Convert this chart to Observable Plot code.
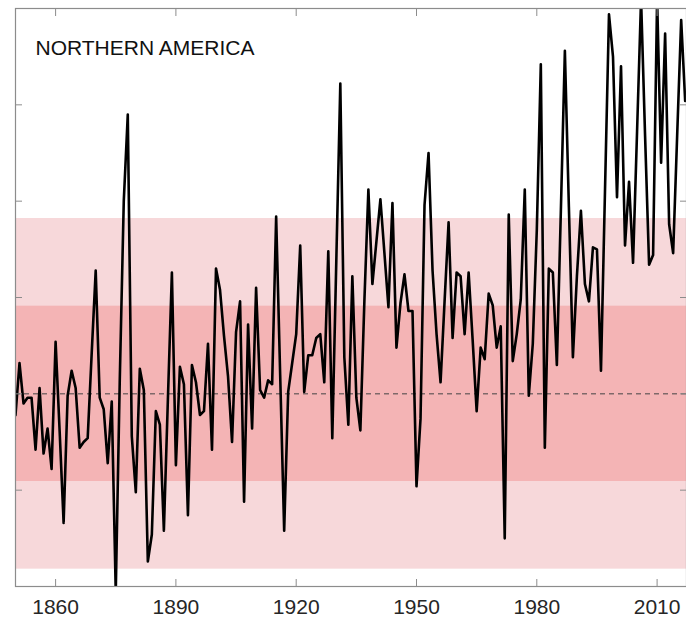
<!DOCTYPE html>
<html>
<head>
<meta charset="utf-8">
<script src="https://cdn.jsdelivr.net/npm/d3@7"></script>
<script src="https://cdn.jsdelivr.net/npm/@observablehq/plot@0.6"></script>
<style>
  html, body { margin: 0; padding: 0; background: #ffffff; }
  #chart svg { display: block; }
</style>
</head>
<body>
<div id="chart"></div>
<script>
// ---- data ----
const regionTitle = "NORTHERN AMERICA";
const firstYear = 1850;
const anomalies = [
  -0.11, 0.16, -0.05, -0.02, -0.02, -0.29, 0.03, -0.31, -0.18, -0.39, // 1850-1859
  0.27, -0.19, -0.67, -0.01, 0.12, 0.03, -0.28, -0.25, -0.23, 0.21,    // 1860-1869
  0.64, -0.02, -0.08, -0.36, -0.04, -1.03, 0.07, 1.00, 1.45, -0.22,    // 1870-1879
  -0.51, 0.13, 0.02, -0.87, -0.73, -0.09, -0.16, -0.71, -0.03, 0.63,   // 1880-1889
  -0.37, 0.14, 0.05, -0.63, 0.15, 0.06, -0.11, -0.09, 0.26, -0.29,     // 1890-1899
  0.65, 0.54, 0.30, 0.09, -0.25, 0.32, 0.48, -0.56, 0.36, -0.18,       // 1900-1909
  0.55, 0.02, -0.02, 0.07, 0.05, 0.92, 0.10, -0.71, 0.01, 0.16,        // 1910-1919
  0.31, 0.77, 0.01, 0.20, 0.20, 0.29, 0.31, 0.06, 0.74, -0.23,         // 1920-1929
  0.69, 1.61, 0.19, -0.16, 0.61, -0.02, -0.19, 0.48, 1.06, 0.57,       // 1930-1939
  0.79, 1.01, 0.73, 0.45, 0.99, 0.24, 0.47, 0.62, 0.43, 0.43,          // 1940-1949
  -0.48, -0.13, 0.98, 1.25, 0.64, 0.31, 0.06, 0.48, 0.89, 0.29,        // 1950-1959
  0.63, 0.61, 0.31, 0.63, 0.28, -0.09, 0.24, 0.18, 0.52, 0.46,         // 1960-1969
  0.24, 0.35, -0.75, 0.93, 0.17, 0.31, 0.49, 1.06, -0.01, 0.26,        // 1970-1979
  0.85, 1.71, -0.28, 0.65, 0.63, 0.15, 0.95, 1.78, 0.97, 0.19,         // 1980-1989
  0.61, 0.95, 0.57, 0.48, 0.76, 0.75, 0.12, 1.05, 1.97, 1.75,          // 1990-1999
  1.02, 1.70, 0.77, 1.10, 0.68, 1.36, 2.05, 1.34, 0.67, 0.72,          // 2000-2009
  2.05, 1.20, 1.87, 0.88, 0.73, 1.34, 1.94, 1.52                       // 2010-2017
];
const xDomain = [1850, 2017.33];
const yDomain = [-1, 2];
const xTickValues = [1860, 1890, 1920, 1950, 1980, 2010];
const yTickValues = [-0.5, 0, 0.5, 1, 1.5];
const outerBand = [0.91];   // +/- 2 sigma
const innerBand = [0.455];  // +/- 1 sigma
const zeroLine = [0];

const series = anomalies.map((v, i) => ({year: firstYear + i, value: v}));

// ---- styles ----
const lightPink = "#f7d8da";
const darkPink = "#f4b4b5";
const frameGray = "#8c8c8c";
const labelColor = "#262626";
const fontStack = "'Liberation Sans', Arial, Helvetica, sans-serif";

const chart = Plot.plot({
  width: 686,
  height: 617,
  marginTop: 8,
  marginBottom: 31,
  marginLeft: 15,
  marginRight: 0,
  x: {domain: xDomain, label: null},
  y: {domain: yDomain, label: null},
  style: {fontFamily: fontStack, background: "#ffffff", overflow: "visible"},
  marks: [
    Plot.rect(outerBand, {y1: d => -d, y2: d => d, fill: lightPink}),
    Plot.rect(innerBand, {y1: d => -d, y2: d => d, fill: darkPink}),
    Plot.ruleY(zeroLine, {stroke: "#444444", strokeWidth: 1, strokeDasharray: "5,4"}),
    Plot.line(series, {x: "year", y: "value", stroke: "#000000", strokeWidth: 2.6, clip: true}),
    Plot.frame({stroke: frameGray, strokeWidth: 1.2}),
    Plot.axisX({anchor: "bottom", ticks: xTickValues, tickSize: -7, tickFormat: () => "", stroke: frameGray, label: null}),
    Plot.axisX({anchor: "top", ticks: xTickValues, tickSize: -7, tickFormat: () => "", stroke: frameGray, label: null}),
    Plot.axisY({anchor: "left", ticks: yTickValues, tickSize: -7, tickFormat: () => "", stroke: frameGray, label: null}),
    Plot.axisY({anchor: "right", ticks: yTickValues, tickSize: -7, tickFormat: () => "", stroke: frameGray, label: null}),
    Plot.axisX({anchor: "bottom", ticks: xTickValues, tickSize: 0, tickPadding: 12.5, tickFormat: d => String(d), fontSize: 21, fill: labelColor, label: null}),
    Plot.text([regionTitle], {text: d => d, frameAnchor: "top-left", textAnchor: "start", lineAnchor: "top", dx: 20, dy: 31.5, fontSize: 21, fill: "#111111"})
  ]
});
document.getElementById("chart").appendChild(chart);
</script>
</body>
</html>
